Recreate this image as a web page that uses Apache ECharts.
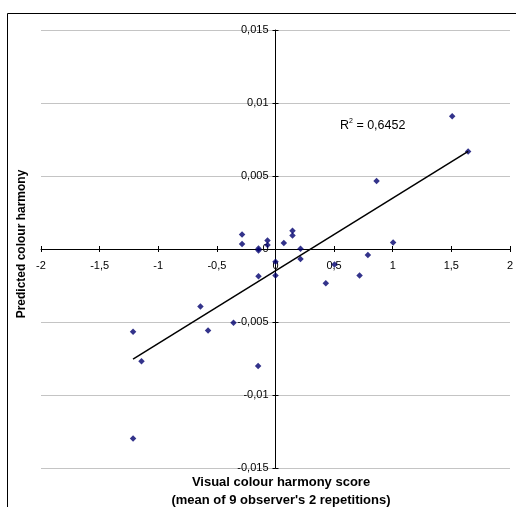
<!DOCTYPE html>
<html><head><meta charset="utf-8">
<script src="https://cdn.jsdelivr.net/npm/echarts@6/dist/echarts.min.js"></script>
<style>html,body{margin:0;padding:0;background:#fff}#c{width:516px;height:507px}</style>
</head><body><div id="c"></div>
<script>
// Visual colour harmony score (x) vs predicted colour harmony (y)
const visualScore = [0.862, -0.285, -0.285, -0.145, -0.145, -0.068, -0.068, 0.000, 0.000, 0.071,
  0.145, 0.145, 0.213, 0.213, -0.145, 1.003, 0.788, 0.503, 0.717, 0.429,
  -0.640, -0.358, -0.575, -1.215, -1.143, -0.148, -1.215, 1.507, 1.643];
const predicted = [0.00466, 0.00100, 0.00034, 0.00004, -0.00010, 0.00059, 0.00027, -0.00087, -0.00182, 0.00041,
  0.00125, 0.00093, 0.00002, -0.00068, -0.00187, 0.00045, -0.00041, -0.00107, -0.00182, -0.00234,
  -0.00393, -0.00505, -0.00559, -0.00566, -0.00768, -0.00802, -0.01298, 0.00909, 0.00668];
// linear trend line endpoints
const trendX = [-1.215, 1.643];
const trendY = [-0.00755, 0.00668];
const rSquaredText = '0,6452';
const xTitle = 'Visual colour harmony score';
const xSubTitle = "(mean of 9 observer's 2 repetitions)";
const yTitle = 'Predicted colour harmony';

const X_MIN = -2, X_MAX = 2, X_STEP = 0.5;
const Y_MIN = -0.015, Y_MAX = 0.015, Y_STEP = 0.005;

const fmt = v => String(+(+v).toFixed(4)).replace('.', ',');
const FONT = 'Liberation Sans, Arial, sans-serif';

const W = 516, H = 507;
const G = { left: 41, right: 6, top: 30, bottom: 39 };
const plotW = W - G.left - G.right, plotH = H - G.top - G.bottom;
// pixel position of the zero lines (where the axes cross)
const zeroXpx = G.left + plotW * (0 - X_MIN) / (X_MAX - X_MIN);
const zeroYpx = G.top + plotH * (Y_MAX - 0) / (Y_MAX - Y_MIN);

const chart = echarts.init(document.getElementById('c'));
const points = visualScore.map((x, i) => [x, predicted[i]]);
const trend = trendX.map((x, i) => [x, trendY[i]]);

const xBase = { type: 'value', min: X_MIN, max: X_MAX, interval: X_STEP, splitLine: { show: false } };
const yBase = { type: 'value', min: Y_MIN, max: Y_MAX, interval: Y_STEP, splitLine: { show: false } };
const hidden = { show: false };
const tickOut = { show: true, inside: false, length: 3, lineStyle: { color: '#000' } };
const tickIn = { show: true, inside: true, length: 3, lineStyle: { color: '#000' } };
const line = { show: true, onZero: false, lineStyle: { color: '#000', width: 1 } };

chart.setOption({
  animation: false,
  backgroundColor: '#fff',
  grid: [
    Object.assign({}, G),                                                  // 0: data
    { left: G.left, right: G.right, top: G.top, bottom: H - zeroYpx },      // 1: x axis on y = 0
    { left: zeroXpx, right: G.right, top: G.top, bottom: G.bottom }         // 2: y axis on x = 0
  ],
  xAxis: [
    Object.assign({}, xBase, { gridIndex: 0, show: true, axisLine: hidden, axisTick: hidden, axisLabel: hidden }),
    Object.assign({}, xBase, { gridIndex: 1, position: 'bottom', axisLine: line, axisTick: tickOut,
      axisLabel: { formatter: fmt, fontFamily: FONT, fontSize: 11, color: '#000', margin: 11 } }),
    Object.assign({}, xBase, { gridIndex: 1, position: 'bottom', axisLine: { show: false, onZero: false }, axisTick: tickIn, axisLabel: hidden }),
    Object.assign({}, xBase, { gridIndex: 2, show: false })
  ],
  yAxis: [
    Object.assign({}, yBase, { gridIndex: 0, axisLine: hidden, axisTick: hidden, axisLabel: hidden,
      splitLine: { show: true, lineStyle: { color: '#c4c4c4', width: 1 } } }),
    Object.assign({}, yBase, { gridIndex: 1, show: false }),
    Object.assign({}, yBase, { gridIndex: 2, position: 'left', axisLine: line, axisTick: tickOut,
      axisLabel: { formatter: fmt, fontFamily: FONT, fontSize: 11, color: '#000', margin: 7 } }),
    Object.assign({}, yBase, { gridIndex: 2, position: 'left', offset: 0, axisLine: { show: false, onZero: false }, axisTick: tickIn, axisLabel: hidden })
  ],
  series: [
    {
      type: 'scatter', xAxisIndex: 0, yAxisIndex: 0, data: points, symbol: 'diamond', symbolSize: 6.5,
      itemStyle: { color: '#00006e' }, z: 5
    },
    {
      type: 'line', xAxisIndex: 0, yAxisIndex: 0, data: trend, symbol: 'none',
      lineStyle: { color: '#000', width: 1.5 }, z: 6
    }
  ],
  graphic: [
    { type: 'rect', shape: { x: 7.5, y: 13.5, width: 700, height: 700 }, style: { fill: 'none', stroke: '#000', lineWidth: 1 }, silent: true },
    { type: 'text', x: 22, y: 244, rotation: Math.PI / 2, style: { text: yTitle, font: 'bold 12px ' + FONT, fill: '#000', textAlign: 'center', textVerticalAlign: 'middle' } },
    { type: 'text', x: 281, y: 482, style: { text: xTitle, font: 'bold 13px ' + FONT, fill: '#000', textAlign: 'center', textVerticalAlign: 'middle' } },
    { type: 'text', x: 281, y: 500, style: { text: xSubTitle, font: 'bold 13px ' + FONT, fill: '#000', textAlign: 'center', textVerticalAlign: 'middle' } },
    { type: 'text', x: 340, y: 126, style: {
        text: '{r|R}{s|2}{r| = ' + rSquaredText + '}',
        textVerticalAlign: 'middle',
        rich: { r: { fontFamily: FONT, fontSize: 12.5, color: '#000' },
                s: { fontFamily: FONT, fontSize: 7, color: '#000', verticalAlign: 'top', lineHeight: 16 } }
      } }
  ]
});
</script></body></html>
